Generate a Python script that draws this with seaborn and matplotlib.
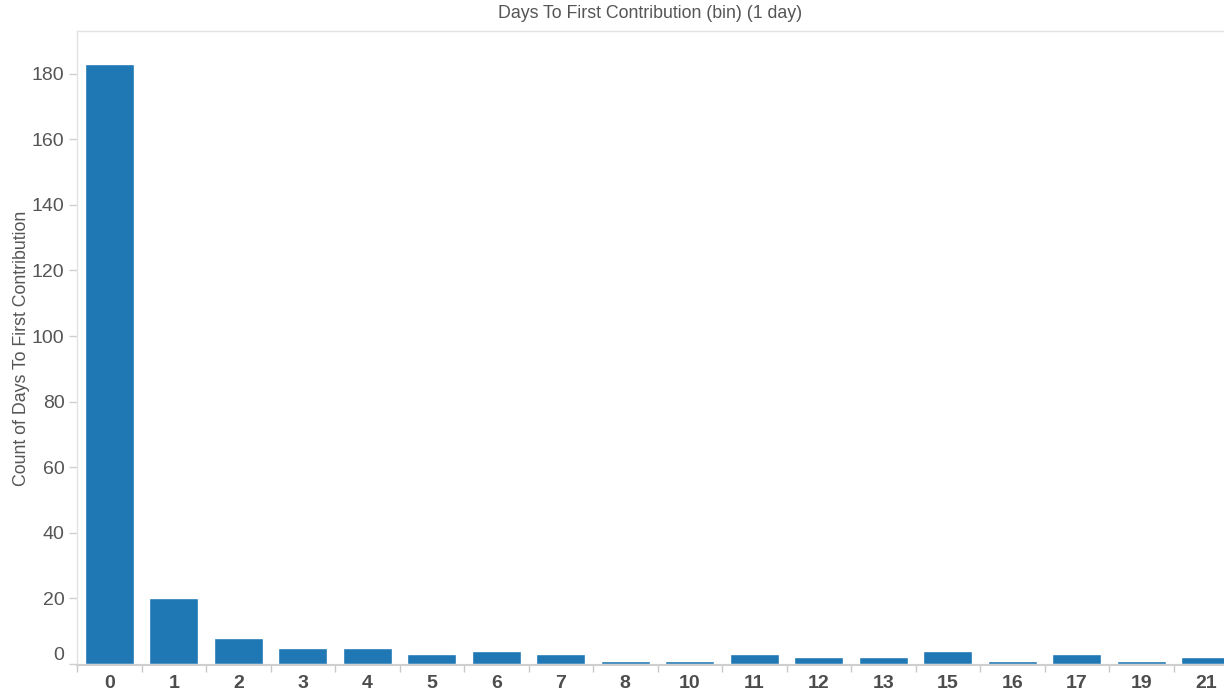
import pandas as pd
import seaborn as sns
import matplotlib.pyplot as plt

# Days to first contribution, binned per day
days = ['0', '1', '2', '3', '4', '5', '6', '7', '8', '10', '11', '12', '13', '15', '16', '17', '19', '21']
counts = [183, 20, 8, 5, 5, 3, 4, 3, 1, 1, 3, 2, 2, 4, 1, 3, 1, 2]

df = pd.DataFrame({'day': days, 'count': counts})

sns.set_style('white')
plt.rcParams['font.family'] = ['Liberation Sans', 'DejaVu Sans']

fig = plt.figure(figsize=(12.24, 6.92), dpi=100)
# axes runs a bit past the right edge, like the original screenshot
ax = fig.add_axes([77 / 1224, 27 / 692, 1161 / 1224, 634 / 692])

sns.barplot(data=df, x='day', y='count', order=days, color='#1f77b4',
            saturation=1, width=0.76, ax=ax)

ax.set_xlim(-0.5, len(days) - 0.5)
ax.set_ylim(-0.3, 193)
ax.set_yticks(range(0, 181, 20))

# ticks sit on the category boundaries, labels under the bars
ax.set_xticks([i - 0.5 for i in range(len(days))])
ax.set_xticklabels([])
ax.set_xticks(range(len(days)), minor=True)
ax.set_xticklabels(days, minor=True, fontsize=14, fontweight='bold', color='#4d4d4d')
ax.tick_params(axis='x', which='major', bottom=True, length=5, color='#c8c8c8', width=1)
ax.tick_params(axis='x', which='minor', bottom=True, length=0, pad=7)
ax.tick_params(axis='y', left=True, length=6, color='#d0d0d0', width=1,
               labelsize=14, labelcolor='#555555', pad=3)
# bottom label sits above the baseline, as in the original
ax.get_yticklabels()[0].set_verticalalignment('bottom')

ax.set_xlabel('')
ax.set_ylabel('Count of Days To First Contribution', fontsize=12.8, color='#555555')
ax.yaxis.set_label_coords(-55 / 1161, 0.5)
ax.yaxis.label.set_verticalalignment('center')

for side in ['left', 'top', 'right']:
    ax.spines[side].set_color('#e2e2e2')
    ax.spines[side].set_linewidth(1)
ax.spines['bottom'].set_color('#cfcfcf')
ax.spines['bottom'].set_linewidth(1.5)

fig.text(650 / 1224, 1 - 13 / 692, 'Days To First Contribution (bin) (1 day)',
         ha='center', va='center', fontsize=12.8, color='#555555')

fig.savefig('out.png', dpi=100)
